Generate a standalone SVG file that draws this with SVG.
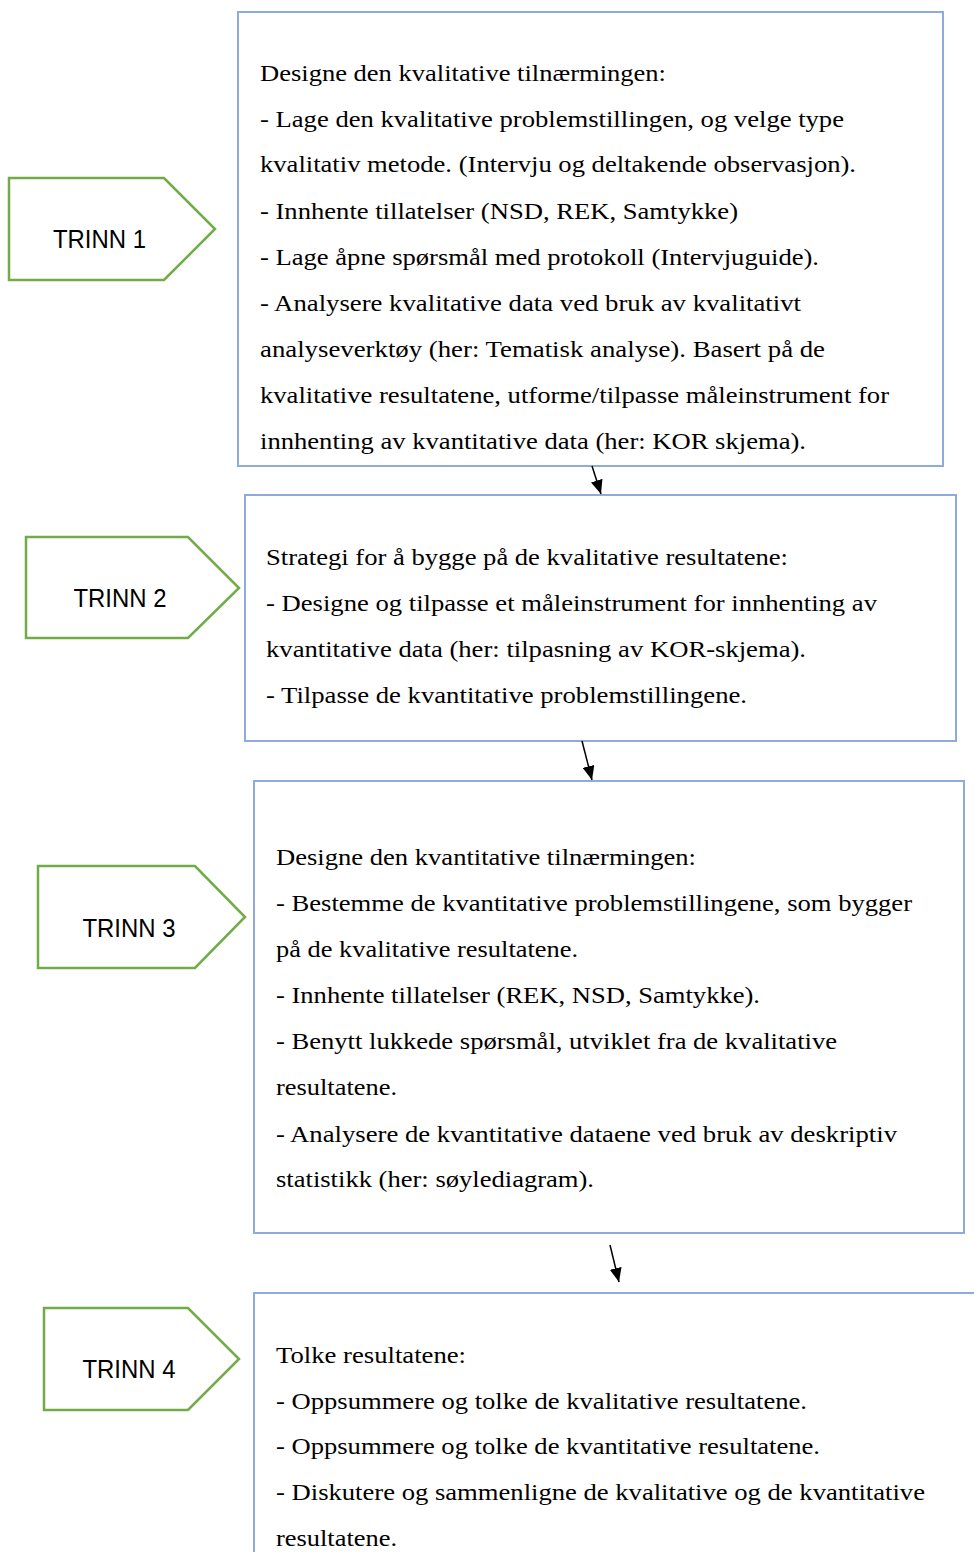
<svg xmlns="http://www.w3.org/2000/svg" width="974" height="1552" viewBox="0 0 974 1552">
<defs>
<marker id="ah" viewBox="0 0 10 10" refX="10" refY="5" markerWidth="14" markerHeight="12" markerUnits="userSpaceOnUse" orient="auto" preserveAspectRatio="none">
<path d="M0,0 L10,5 L0,10 z" fill="#000"/>
</marker>
<style>
.box{fill:#fff;stroke:#8FAADC;stroke-width:2}
.tag{fill:#fff;stroke:#70AD47;stroke-width:2.5}
.t{font-family:"Liberation Serif","Times New Roman",serif;font-size:24px;fill:#000}
.lbl{font-family:"Liberation Sans",Arial,sans-serif;font-size:25px;fill:#000;text-anchor:middle}
.c{stroke:#000;stroke-width:1.5;fill:none}
</style>
</defs>
<rect width="974" height="1552" fill="#fff"/>

<g id="trinn1">
<path class="tag" d="M9,178 L164,178 L215,229 L164,280 L9,280 Z"/>
<text class="lbl" x="99.5" y="248" textLength="93" lengthAdjust="spacingAndGlyphs">TRINN 1</text>
</g>
<g id="trinn2">
<path class="tag" d="M26,537 L188,537 L239,588 L188,638 L26,638 Z"/>
<text class="lbl" x="120" y="607" textLength="93" lengthAdjust="spacingAndGlyphs">TRINN 2</text>
</g>
<g id="trinn3">
<path class="tag" d="M38,866 L195,866 L245,917 L195,968 L38,968 Z"/>
<text class="lbl" x="129" y="937" textLength="93" lengthAdjust="spacingAndGlyphs">TRINN 3</text>
</g>
<g id="trinn4">
<path class="tag" d="M44,1308 L188,1308 L239,1359 L188,1410 L44,1410 Z"/>
<text class="lbl" x="129" y="1378" textLength="93" lengthAdjust="spacingAndGlyphs">TRINN 4</text>
</g>

<g id="box1">
<rect class="box" x="238" y="12" width="705" height="454"/>
<text class="t" x="260" y="81" textLength="406" lengthAdjust="spacingAndGlyphs">Designe den kvalitative tilnærmingen:</text>
<text class="t" x="260" y="127" textLength="584" lengthAdjust="spacingAndGlyphs">- Lage den kvalitative problemstillingen, og velge type</text>
<text class="t" x="260" y="172" textLength="596" lengthAdjust="spacingAndGlyphs">kvalitativ metode. (Intervju og deltakende observasjon).</text>
<text class="t" x="260" y="219" textLength="478" lengthAdjust="spacingAndGlyphs">- Innhente tillatelser (NSD, REK, Samtykke)</text>
<text class="t" x="260" y="265" textLength="559" lengthAdjust="spacingAndGlyphs">- Lage åpne spørsmål med protokoll (Intervjuguide).</text>
<text class="t" x="260" y="311" textLength="541" lengthAdjust="spacingAndGlyphs">- Analysere kvalitative data ved bruk av kvalitativt</text>
<text class="t" x="260" y="357" textLength="565" lengthAdjust="spacingAndGlyphs">analyseverktøy (her: Tematisk analyse). Basert på de</text>
<text class="t" x="260" y="403" textLength="629" lengthAdjust="spacingAndGlyphs">kvalitative resultatene, utforme/tilpasse måleinstrument for</text>
<text class="t" x="260" y="449" textLength="546" lengthAdjust="spacingAndGlyphs">innhenting av kvantitative data (her: KOR skjema).</text>
</g>

<g id="box2">
<rect class="box" x="245" y="495" width="711" height="246"/>
<text class="t" x="266" y="565" textLength="522" lengthAdjust="spacingAndGlyphs">Strategi for å bygge på de kvalitative resultatene:</text>
<text class="t" x="266" y="611" textLength="611" lengthAdjust="spacingAndGlyphs">- Designe og tilpasse et måleinstrument for innhenting av</text>
<text class="t" x="266" y="657" textLength="540" lengthAdjust="spacingAndGlyphs">kvantitative data (her: tilpasning av KOR-skjema).</text>
<text class="t" x="266" y="703" textLength="481" lengthAdjust="spacingAndGlyphs">- Tilpasse de kvantitative problemstillingene.</text>
</g>

<g id="box3">
<rect class="box" x="254" y="781" width="710" height="452"/>
<text class="t" x="276" y="865" textLength="420" lengthAdjust="spacingAndGlyphs">Designe den kvantitative tilnærmingen:</text>
<text class="t" x="276" y="911" textLength="636" lengthAdjust="spacingAndGlyphs">- Bestemme de kvantitative problemstillingene, som bygger</text>
<text class="t" x="276" y="957" textLength="302" lengthAdjust="spacingAndGlyphs">på de kvalitative resultatene.</text>
<text class="t" x="276" y="1003" textLength="484" lengthAdjust="spacingAndGlyphs">- Innhente tillatelser (REK, NSD, Samtykke).</text>
<text class="t" x="276" y="1049" textLength="561" lengthAdjust="spacingAndGlyphs">- Benytt lukkede spørsmål, utviklet fra de kvalitative</text>
<text class="t" x="276" y="1095" textLength="121" lengthAdjust="spacingAndGlyphs">resultatene.</text>
<text class="t" x="276" y="1142" textLength="621" lengthAdjust="spacingAndGlyphs">- Analysere de kvantitative dataene ved bruk av deskriptiv</text>
<text class="t" x="276" y="1187" textLength="318" lengthAdjust="spacingAndGlyphs">statistikk (her: søylediagram).</text>
</g>

<g id="box4">
<rect class="box" x="254" y="1293" width="760" height="400"/>
<text class="t" x="276" y="1363" textLength="190" lengthAdjust="spacingAndGlyphs">Tolke resultatene:</text>
<text class="t" x="276" y="1409" textLength="531" lengthAdjust="spacingAndGlyphs">- Oppsummere og tolke de kvalitative resultatene.</text>
<text class="t" x="276" y="1454" textLength="544" lengthAdjust="spacingAndGlyphs">- Oppsummere og tolke de kvantitative resultatene.</text>
<text class="t" x="276" y="1500" textLength="649" lengthAdjust="spacingAndGlyphs">- Diskutere og sammenligne de kvalitative og de kvantitative</text>
<text class="t" x="276" y="1546" textLength="121" lengthAdjust="spacingAndGlyphs">resultatene.</text>
</g>

<g id="connectors">
<line class="c" x1="592" y1="466" x2="601" y2="494" marker-end="url(#ah)"/>
<line class="c" x1="582" y1="741" x2="592" y2="780" marker-end="url(#ah)"/>
<line class="c" x1="610" y1="1245" x2="619" y2="1282" marker-end="url(#ah)"/>
</g>
</svg>
